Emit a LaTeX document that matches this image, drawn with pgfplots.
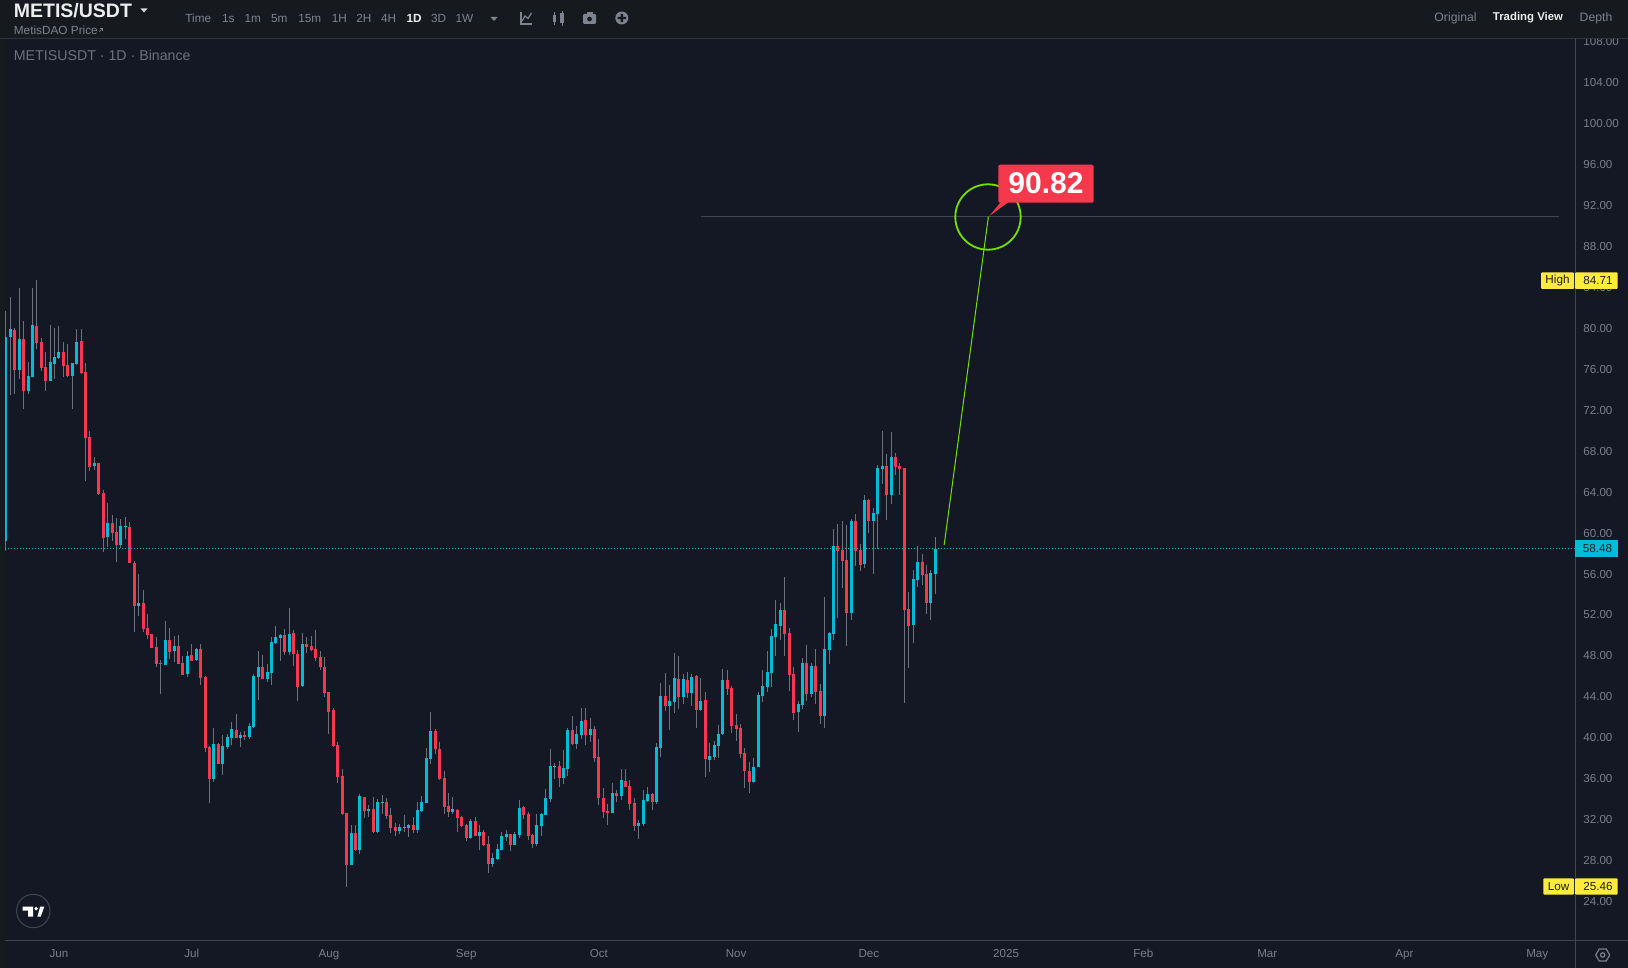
\documentclass[border=0pt]{standalone}
\usepackage{pgfplots}
\usepackage{pgfplotstable}
\usepackage{fontspec}
\setmainfont{Liberation Sans}
\pgfplotsset{compat=1.18}
\definecolor{bgmain}{HTML}{131824}
\definecolor{bgbar}{HTML}{161A1E}
\definecolor{upc}{HTML}{00BCD4}
\definecolor{downc}{HTML}{F7374F}
\definecolor{wick}{HTML}{6E717C}
\definecolor{axisl}{HTML}{434651}
\definecolor{topl}{HTML}{2F3240}
\definecolor{tickc}{HTML}{7A7E8A}
\definecolor{toolc}{HTML}{7D838F}
\definecolor{tagy}{HTML}{FFEB3B}
\definecolor{tagd}{HTML}{1B1F27}
\definecolor{greenc}{HTML}{74E000}
\definecolor{redl}{HTML}{F5394D}
\pgfplotstableread{
x o h l c
0 59.23 81.69 58.25 79.15
1 79.15 83.06 73.49 79.93
3 75.93 83.94 75.05 78.96
5 73.88 76.71 73.59 75.34
6 75.24 83.94 75.24 80.32
10 74.87 80.32 74.87 76.71
11 76.51 80.03 75.05 77.20
12 77.10 80.22 77.00 77.69
15 75.34 76.61 72.12 76.61
16 76.51 79.93 76.42 78.66
20 66.55 67.43 66.16 66.85
23 59.62 62.94 58.64 60.99
26 58.84 61.38 58.55 60.69
27 60.60 61.57 59.43 60.69
30 52.88 56.01 51.91 53.17
36 47.12 51.42 47.12 49.56
38 48.49 49.95 47.41 48.98
41 46.24 48.49 45.95 48.00
43 47.61 48.78 47.51 48.68
47 35.99 40.97 35.70 39.41
49 37.45 40.28 36.38 39.21
50 39.11 40.38 38.92 40.09
51 39.99 41.55 39.31 40.87
53 39.99 40.58 39.11 40.28
55 40.09 41.46 39.89 41.16
56 41.07 46.24 40.97 46.05
57 45.95 48.49 43.70 46.92
59 45.75 47.22 45.46 46.44
60 46.34 49.85 45.17 49.37
61 49.27 50.93 49.17 49.85
62 49.76 50.15 47.51 50.05
64 48.39 52.69 48.10 50.15
67 45.07 50.24 44.97 49.17
78 27.59 31.50 27.59 30.71
80 29.06 34.52 28.66 34.33
82 32.86 33.45 32.28 33.06
84 30.81 34.03 30.71 33.74
85 33.64 34.42 32.56 33.74
89 30.90 31.59 30.61 31.30
90 31.20 32.47 30.81 31.30
91 31.20 31.59 30.32 31.49
93 31.00 33.74 30.71 32.96
94 32.86 34.32 32.76 33.74
95 33.64 39.01 33.64 38.03
96 37.94 42.53 37.45 40.67
101 32.76 34.23 32.53 33.05
105 30.22 32.08 30.12 31.88
107 30.42 31.49 29.05 30.81
110 27.68 28.76 27.39 28.27
111 28.17 29.64 28.07 29.15
112 29.05 30.81 29.05 30.42
113 30.32 31.00 29.93 30.61
115 29.54 30.81 29.54 30.61
116 30.51 33.93 30.22 33.15
120 29.64 32.56 29.44 31.49
121 31.39 32.66 30.42 32.56
122 32.47 35.01 32.47 34.13
123 34.03 38.91 33.74 37.25
124 37.15 37.54 35.98 37.25
126 36.08 38.81 35.49 37.06
127 36.96 40.96 36.28 40.77
129 39.40 41.16 38.91 40.38
130 40.28 42.91 39.89 41.64
132 40.28 41.94 39.59 40.86
137 32.66 35.59 32.66 34.61
139 34.32 36.96 33.93 35.88
143 31.39 31.98 30.12 31.68
144 31.59 34.91 31.39 33.93
145 33.83 35.20 33.73 34.52
147 33.73 39.50 33.54 39.10
148 39.01 45.35 38.13 44.09
150 43.11 45.16 40.76 43.60
151 43.50 48.28 42.42 45.84
153 43.99 46.23 43.30 45.75
155 44.38 46.23 43.11 45.94
157 42.72 45.84 42.62 43.60
159 37.84 39.50 36.66 38.23
160 38.13 39.69 37.84 39.30
161 39.20 41.25 38.03 40.37
162 40.37 46.72 40.28 45.65
169 35.69 38.03 35.59 37.15
170 37.15 44.48 37.15 44.18
171 44.09 46.62 43.50 45.06
172 44.96 48.48 44.48 46.43
173 46.33 50.63 44.96 49.94
174 49.85 53.46 47.99 51.12
175 50.92 53.17 49.56 52.49
179 42.53 43.60 40.57 43.31
180 43.21 47.80 42.82 47.31
182 44.28 47.31 43.99 47.02
185 42.14 53.76 40.96 48.68
186 48.58 50.34 47.21 50.24
187 50.14 60.40 49.56 58.74
191 52.19 61.37 51.51 61.18
194 56.98 63.72 56.59 63.23
196 61.18 62.45 56.00 61.96
197 61.86 66.65 58.44 66.35
198 66.26 69.97 64.79 66.55
200 63.72 69.87 62.84 67.43
205 51.02 56.39 49.26 55.51
206 55.42 58.74 54.73 57.17
209 53.17 56.39 51.51 56.10
210 56.00 59.61 54.05 58.48
}\upbars
\pgfplotstableread{
x o h l c
2 79.83 80.03 73.59 75.93
4 78.96 80.71 72.12 73.88
7 80.22 84.71 77.98 78.56
8 78.66 79.05 75.83 76.12
9 76.22 77.69 73.88 74.87
13 77.69 78.66 75.24 76.32
14 76.42 78.47 75.24 75.34
17 78.76 79.93 75.54 75.64
18 75.73 76.61 65.09 69.29
19 69.39 69.97 66.07 66.46
21 66.85 66.85 63.72 63.82
22 63.92 64.21 58.16 59.52
24 60.99 61.77 59.23 60.01
25 60.11 61.48 57.20 58.84
28 60.60 61.09 57.05 57.05
29 57.08 57.28 50.34 52.88
31 53.17 54.44 50.34 50.64
32 50.73 52.10 49.66 50.05
33 50.15 50.15 48.78 48.78
34 48.88 49.85 46.92 47.22
35 47.32 47.61 44.29 47.22
37 49.56 50.73 47.71 48.39
39 48.98 50.05 47.22 47.22
40 47.32 48.00 46.14 46.14
42 48.10 49.17 47.51 47.51
44 48.68 49.17 45.17 45.85
45 45.95 46.05 38.62 39.00
46 39.11 39.21 33.64 35.99
48 39.41 39.50 37.45 37.45
52 40.77 42.34 39.99 39.99
54 40.28 40.68 39.80 40.09
58 46.92 48.10 45.75 45.75
63 50.05 50.64 48.10 48.39
65 50.24 50.54 47.02 48.19
66 48.19 48.59 43.60 44.97
68 49.17 49.85 48.29 48.88
69 48.98 49.95 48.49 48.59
70 48.68 50.54 47.51 47.80
71 47.90 48.49 46.63 46.92
72 46.92 47.90 44.00 44.39
73 44.48 44.48 40.38 42.53
74 42.73 42.92 39.11 39.21
75 39.31 39.60 35.60 36.18
76 36.28 36.96 32.47 32.57
77 32.67 32.67 25.46 27.59
79 30.71 31.50 28.96 29.06
81 34.23 34.23 32.18 32.86
83 33.05 34.23 30.71 30.81
86 33.74 34.13 32.08 32.37
87 32.47 33.15 30.71 31.20
88 31.30 31.69 30.42 30.90
92 31.49 32.27 30.71 31.00
97 40.67 40.87 38.42 38.91
98 38.91 39.60 35.88 35.98
99 36.08 36.76 32.57 33.25
100 33.35 34.62 32.27 32.76
102 32.96 33.05 30.81 32.17
103 32.27 32.37 31.30 31.39
104 31.49 31.59 29.93 30.22
106 31.88 32.27 30.42 30.42
108 30.81 31.00 29.44 29.54
109 29.64 30.42 26.80 27.68
114 30.61 30.61 28.95 29.54
117 33.25 33.35 32.08 32.47
118 32.56 32.76 30.03 30.42
119 30.51 30.61 29.24 29.64
125 37.25 37.74 35.20 36.08
128 40.77 42.13 39.30 39.40
131 41.74 42.91 39.30 40.28
133 40.86 41.16 37.64 38.03
134 38.13 39.89 33.44 34.12
135 34.12 35.10 32.17 32.76
136 32.86 33.54 31.49 32.66
138 34.61 34.91 33.73 34.32
140 35.78 36.96 35.20 35.20
141 35.30 35.88 32.95 33.54
142 33.64 34.12 30.90 31.39
146 34.52 34.61 32.95 33.73
149 44.09 46.33 42.62 43.11
152 45.75 47.99 42.82 43.99
154 45.65 46.43 43.89 44.38
156 46.04 46.14 40.96 42.72
158 43.69 44.48 36.18 37.93
163 45.65 46.62 44.18 44.77
164 44.87 45.06 40.47 41.16
165 41.25 42.33 39.69 40.86
166 40.96 41.35 38.03 38.42
167 38.52 39.01 35.10 36.76
168 36.76 37.64 34.61 35.69
176 52.49 55.71 47.99 50.14
177 50.24 50.73 44.58 46.14
178 46.24 46.92 41.74 42.43
181 47.31 49.07 43.60 44.28
183 47.02 48.68 43.31 44.48
184 44.58 45.26 41.35 42.14
188 58.74 60.88 51.70 58.25
189 58.35 61.18 54.63 57.27
190 57.37 60.79 48.97 52.19
192 61.18 61.86 56.78 58.25
193 58.35 58.93 56.29 56.88
195 63.23 63.33 60.00 61.18
199 66.55 67.72 61.27 63.72
201 67.43 67.82 65.67 66.45
202 66.55 66.84 63.72 66.26
203 66.35 66.35 43.40 52.49
204 52.58 54.24 46.82 50.92
207 57.17 57.95 54.93 55.90
208 56.00 56.88 52.10 53.17
}\downbars
\begin{document}
\begin{tikzpicture}
\useasboundingbox (0,0) rectangle (814pt,-484pt);
\fill[bgmain] (0,0) rectangle (814pt,-484pt);
\begin{axis}[
  at={(2.5pt,-470pt)}, anchor=south west,
  scale only axis, width=785.35pt, height=450.85pt,
  xmin=-0.2, xmax=354.7, ymin=20.26, ymax=108.32,
  axis line style={draw=none},
  major tick length=0pt, tick style={draw=none},
  ytick={24,28,...,108},
  yticklabel pos=right,
  xtick={12,42,73,104,134,165,195,226,257,285,316,346},
  xticklabels={Jun,Jul,Aug,Sep,Oct,Nov,Dec,2025,Feb,Mar,Apr,May},
  y tick label style={anchor=west, inner sep=0pt, xshift=3.65pt, text=tickc,
    font=\fontsize{5.8}{7}\selectfont,
    /pgf/number format/assume math mode=true,
    /pgf/number format/fixed, /pgf/number format/fixed zerofill, /pgf/number format/precision=2},
  x tick label style={anchor=center, inner sep=0pt, yshift=-7.3pt, text=tickc,
    text height=4.3pt, text depth=1.3pt,
    font=\fontsize{5.8}{7}\selectfont},
]
\addplot[forget plot, draw=none, no markers, error bars/.cd, y dir=minus, y explicit, error mark=none,
  error bar style={draw=wick, line width=0.5pt}]
  table[x=x, y=h, y error minus expr=\thisrow{h}-\thisrow{l}] {\upbars};
\addplot[forget plot, draw=none, no markers, error bars/.cd, y dir=minus, y explicit, error mark=none,
  error bar style={draw=wick, line width=0.5pt}]
  table[x=x, y=h, y error minus expr=\thisrow{h}-\thisrow{l}] {\downbars};
\addplot[forget plot, draw=none, no markers, error bars/.cd, y dir=minus, y explicit, error mark=none,
  error bar style={draw=upc, line width=1.5pt}]
  table[x=x, y=c, y error minus expr=\thisrow{c}-\thisrow{o}] {\upbars};
\addplot[forget plot, draw=none, no markers, error bars/.cd, y dir=minus, y explicit, error mark=none,
  error bar style={draw=downc, line width=1.5pt}]
  table[x=x, y=o, y error minus expr=\thisrow{o}-\thisrow{c}] {\downbars};
\addplot[forget plot, upc, line width=0.5pt, dash pattern=on 0.6pt off 0.9pt] coordinates {(-0.2,58.48)(354.7,58.48)};
\addplot[forget plot, topl!90!white, line width=0.5pt] coordinates {(157,90.9)(351,90.9)};
\addplot[forget plot, greenc, line width=0.5pt] coordinates {(212,58.83)(222,90.9)};
\end{axis}
\begin{scope}[x=0.5pt,y=-0.5pt]
% chrome
\fill[bgbar] (0,38) rectangle (5,968);
\fill[bgbar] (0,0) rectangle (1628,38);
\draw[topl, line width=0.5pt] (0,38.3) -- (1628,38.3);
\draw[axisl, line width=0.5pt] (5,940) -- (1628,940);
\draw[axisl, line width=0.5pt] (1575.7,38.3) -- (1575.7,968);
% header
\node[anchor=west, inner sep=0, text=white!93!black, font=\bfseries\fontsize{9.75}{12}\selectfont] at (13.5,11) {METIS/USDT};
\fill[white!85!black] (140.5,8.5) -- (147.5,8.5) -- (144,12.5) -- cycle;
\node[anchor=west, inner sep=0, text=toolc, font=\fontsize{5.9}{7}\selectfont] at (13.5,30) {MetisDAO Price};
\draw[toolc, line width=0.35pt] (99,32) -- (102.5,28.5) (100,28.5) -- (102.5,28.5) -- (102.5,31);
\foreach \t/\px in {Time/198.3,1s/228.4,1m/252.8,5m/279.2,15m/309.8,1H/339.4,2H/363.8,4H/388.7,3D/438.6,1W/464.5}
  \node[inner sep=0, text=toolc, font=\fontsize{5.9}{7}\selectfont] at (\px,18.5) {\t};
\node[inner sep=0, text=white!93!black, font=\bfseries\fontsize{5.9}{7}\selectfont] at (414.2,18.5) {1D};
\fill[toolc] (490.5,17) -- (497.5,17) -- (494,21) -- cycle;
% icons
\draw[toolc, line width=0.6pt] (521,12.5) -- (521,24) -- (532,24);
\draw[toolc, line width=0.6pt] (522,21) -- (525,16) -- (528,18.5) -- (531.5,13);
\fill[toolc] (552.5,15.5) rectangle (556,22.5);
\fill[toolc] (560,13.5) rectangle (564,23.5);
\draw[toolc, line width=0.5pt] (554.2,12.5) -- (554.2,25) (562,11) -- (562,26);
\fill[toolc, even odd rule, rounded corners=0.6pt] (583,14) rectangle (596,24) (589.5,19) circle (2.5);
\fill[toolc] (586.5,12) rectangle (592.5,14.5);
\fill[toolc] (621.8,18) circle (6.5);
\fill[bgbar] (620.6,13.8) rectangle (623,22.2) (617.6,16.8) rectangle (626,19.2);
\node[inner sep=0, text=toolc, font=\fontsize{6.1}{7}\selectfont] at (1455.5,18) {Original};
\node[inner sep=0, text=white!93!black, font=\bfseries\fontsize{5.7}{7}\selectfont] at (1528,18) {Trading View};
\node[inner sep=0, text=toolc, font=\fontsize{6.1}{7}\selectfont] at (1596,18) {Depth};
\node[anchor=west, inner sep=0, text=tickc!110!white, font=\fontsize{7.1}{9}\selectfont] at (13.5,55.5) {METISUSDT · 1D · Binance};
% annotation
\draw[greenc, line width=0.9pt] (988,217) circle (32.7);
\fill[redl] (989.3,216) -- (1001.7,201) -- (1010,201) -- cycle;
\fill[redl, rounded corners=1pt] (998.3,164.7) rectangle (1093.7,202.7);
\node[inner sep=0, text=white, font=\bfseries\fontsize{15}{17}\selectfont] at (1046,183.5) {90.82};
% tags
\fill[tagy, rounded corners=0.5pt] (1541,272.3) rectangle (1574,289);
\node[inner sep=0, text=tagd, font=\fontsize{5.85}{7}\selectfont] at (1557.5,280.5) {High};
\fill[tagy, rounded corners=0.5pt] (1575,272.3) rectangle (1617.7,289);
\node[inner sep=0, text=tagd, font=\fontsize{5.85}{7}\selectfont] at (1598,280.5) {84.71};
\fill[tagy, rounded corners=0.5pt] (1543.3,878.3) rectangle (1574,894.7);
\node[inner sep=0, text=tagd, font=\fontsize{5.85}{7}\selectfont] at (1558.5,886.5) {Low};
\fill[tagy, rounded corners=0.5pt] (1575,878.3) rectangle (1617.7,894.7);
\node[inner sep=0, text=tagd, font=\fontsize{5.85}{7}\selectfont] at (1598,886.5) {25.46};
\fill[upc] (1575,540.3) rectangle (1618,557);
\node[inner sep=0, text=tagd, font=\fontsize{5.85}{7}\selectfont] at (1597.5,548.7) {58.48};
% settings icon
\draw[tickc, line width=0.6pt] (1595.7,955) -- (1599.2,949) -- (1606.2,949) -- (1609.7,955) -- (1606.2,961) -- (1599.2,961) -- cycle;
\draw[tickc, line width=0.6pt] (1602.7,955) circle (2.2);
% TV logo
\draw[axisl, line width=0.5pt] (33.3,911) circle (16.7);
\fill[white] (22.7,906.7) -- (33,906.7) -- (33,916.7) -- (28,916.7) -- (28,910.5) -- (22.7,910.5) -- cycle;
\fill[white] (36.2,908.6) circle (1.9);
\fill[white] (37.3,916.7) -- (39.6,906.7+2) -- (40,906.7) -- (44.3,906.7) -- (40.7,916.7) -- cycle;
\end{scope}
\end{tikzpicture}
\end{document}
